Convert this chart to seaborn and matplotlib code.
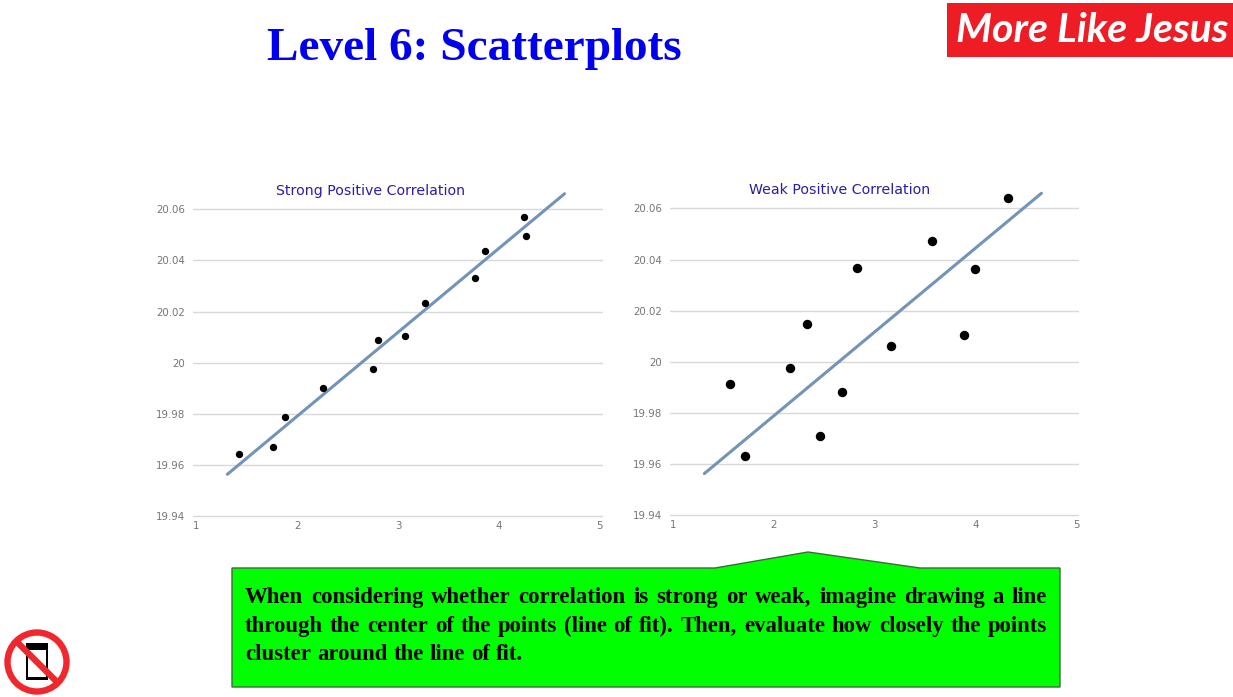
# Level 6 scatterplots slide: two correlation examples plus the slide furniture
import matplotlib
matplotlib.use("Agg")
import matplotlib.pyplot as plt
from matplotlib.patches import Circle, Polygon, Rectangle
import pandas as pd
import seaborn as sns

# Data
strong_x = [1.425, 1.759, 1.874, 2.251, 2.75, 2.803, 3.068, 3.263, 3.765, 3.858, 4.248, 4.271]
strong_y = [19.9644, 19.9672, 19.9789, 19.9903, 19.9976, 20.0087, 20.0105, 20.0234, 20.033, 20.0437, 20.057, 20.0496]
strong_fit_x = [1.306, 4.651]
strong_fit_y = [19.9564, 20.066]

weak_x = [1.566, 1.715, 2.159, 2.328, 2.46, 2.672, 2.825, 3.159, 3.573, 3.887, 3.997, 4.328]
weak_y = [19.9913, 19.9633, 19.9975, 20.0149, 19.971, 19.9881, 20.0367, 20.0063, 20.0472, 20.0104, 20.0363, 20.064]
weak_fit_x = [1.308, 4.656]
weak_fit_y = [19.9563, 20.0659]

x_ticks = [1, 2, 3, 4, 5]
y_ticks = [19.94, 19.96, 19.98, 20.0, 20.02, 20.04, 20.06]
y_labels = ["19.94", "19.96", "19.98", "20", "20.02", "20.04", "20.06"]

slide_title = "Level 6: Scatterplots"
logo_text = "More Like Jesus"
note_lines = [
    "When considering whether correlation is strong or weak, imagine drawing a line",
    "through the center of the points (line of fit). Then, evaluate how closely the points",
    "cluster around the line of fit.",
]

W, H = 1233, 697
GRID = "#d8d8d8"
LINE = "#7393b8"
TITLE_BLUE = "#2a1fa6"

sns.set_theme(style="white")
plt.rcParams["font.family"] = ["DejaVu Sans"]

fig = plt.figure(figsize=(W / 100, H / 100), dpi=100, facecolor="white")


def add_panel(px_left, px_right, px_x1, px_per_x, px_y94, px_per_y, xs, ys, fit_x, fit_y, title, title_px, dot):
    # axes box is given in pixels so the ticks land where they do on the slide
    top_val = 20.07
    low_val = 19.938  # a little under 19.94 so the bottom grid line is not clipped
    px_top = px_y94 - (top_val - 19.94) * px_per_y
    px_bottom = px_y94 + (19.94 - low_val) * px_per_y
    ax = fig.add_axes([px_left / W, 1 - px_bottom / H, (px_right - px_left) / W, (px_bottom - px_top) / H])
    ax.set_xlim(1 + (px_left - px_x1) / px_per_x, 1 + (px_right - px_x1) / px_per_x)
    ax.set_ylim(low_val, top_val)

    sns.lineplot(x=fit_x, y=fit_y, color=LINE, linewidth=2.2, ax=ax, zorder=3)
    points = pd.DataFrame({"x": xs, "y": ys})
    sns.scatterplot(data=points, x="x", y="y", color="black", s=dot, linewidth=0, ax=ax, zorder=4)

    ax.set_xticks(x_ticks)
    ax.set_yticks(y_ticks, labels=y_labels)
    ax.set_xlabel("")
    ax.set_ylabel("")
    ax.yaxis.grid(True, color=GRID, linewidth=1.0)
    ax.xaxis.grid(False)
    ax.set_axisbelow(True)
    sns.despine(ax=ax, left=True, bottom=True, top=True, right=True)
    ax.tick_params(axis="both", length=0, labelsize=7.4, labelcolor="#757575")
    ax.tick_params(axis="y", pad=5.5)
    ax.tick_params(axis="x", pad=0)
    fig.text(title_px / W, 1 - 190.5 / H, title, color=TITLE_BLUE, fontsize=10.2, ha="center", va="center")
    return ax


add_panel(193, 603, 196.5, 100.8, 516.3, 2560, strong_x, strong_y, strong_fit_x, strong_fit_y,
          "Strong Positive Correlation", 370.5, 28)
add_panel(670, 1079, 673.3, 100.7, 515.3, 2558, weak_x, weak_y, weak_fit_x, weak_fit_y,
          "Weak Positive Correlation", 840, 46)

# overlay in pixel coordinates for the slide furniture
deco = fig.add_axes([0, 0, 1, 1], facecolor="none", zorder=10)
deco.set_xlim(0, W)
deco.set_ylim(H, 0)
deco.axis("off")

deco.text(474, 48.5, slide_title, family="Liberation Serif", weight="bold", fontsize=34,
          color="#0000f0", ha="center", va="center")

# logo
deco.add_patch(Rectangle((947, 3), 286, 54, facecolor="#ee1c25", edgecolor="none"))
deco.text(1092, 31, logo_text, family="Lato", weight="bold", style="italic", fontsize=29.5,
          color="white", ha="center", va="center")

# callout
deco.add_patch(Polygon([(232, 568), (715, 568), (808, 552), (920, 568), (1060, 568), (1060, 687), (232, 687)],
                       closed=True, facecolor="#00ff00", edgecolor="#3d6b3d", linewidth=1))


def justified(line, left, right, baseline, stretch):
    # place the words one at a time so the line fills the box like the slide does
    style = dict(family="Liberation Serif", weight="bold", fontsize=16.4, color="black", va="baseline")
    words = line.split(" ")
    renderer = fig.canvas.get_renderer()
    items = [deco.text(left, baseline, w, **style) for w in words]
    widths = [t.get_window_extent(renderer).width for t in items]
    gap = (right - left - sum(widths)) / (len(words) - 1) if stretch else 6
    pos = left
    for t, width in zip(items, widths):
        t.set_x(pos)
        pos += width + gap


justified(note_lines[0], 245, 1047, 603, True)
justified(note_lines[1], 245, 1047, 632, True)
justified(note_lines[2], 245, 1047, 660, False)

# no-phone icon
deco.add_patch(Rectangle((26, 643), 22, 37, facecolor="black", edgecolor="none"))
deco.add_patch(Rectangle((28, 650), 18, 27, facecolor="white", edgecolor="none"))
deco.add_patch(Circle((37, 662), 29.5, facecolor="none", edgecolor="#f0272d", linewidth=4.6))
deco.plot([16, 58], [641, 683], color="#f0272d", linewidth=4.6, solid_capstyle="butt")

fig.savefig("out.png", dpi=100, facecolor="white")
